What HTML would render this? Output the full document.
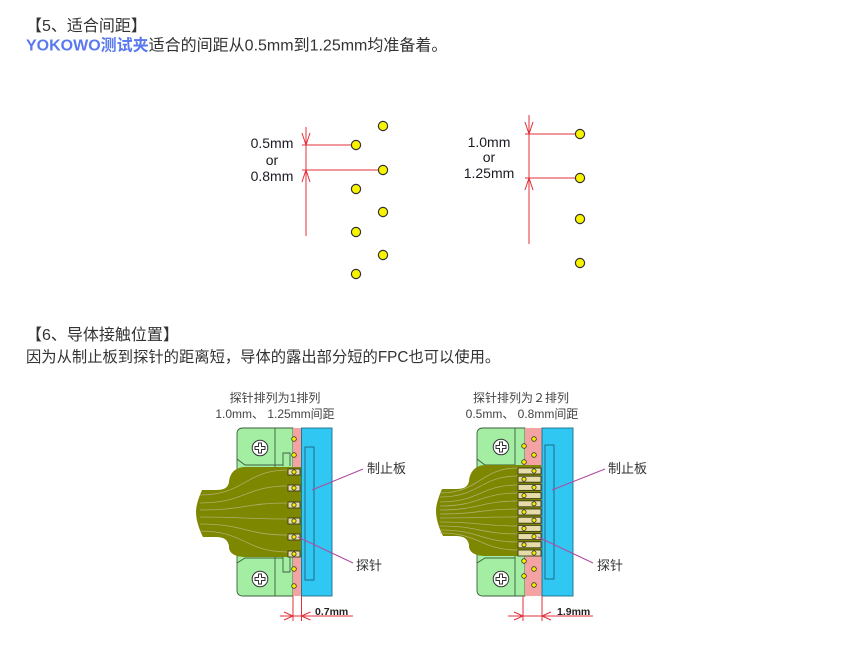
<!DOCTYPE html>
<html><head><meta charset="utf-8"><style>
html,body{margin:0;padding:0;background:#fff;width:845px;height:659px;overflow:hidden}
svg{position:absolute;left:0;top:0}
.t{font-family:"Liberation Sans","Noto Sans CJK SC",sans-serif}
</style></head><body>
<svg width="845" height="659" viewBox="0 0 845 659" xmlns="http://www.w3.org/2000/svg">
<g class="t" fill="#333" font-size="16">
<text x="26" y="31">【5、适合间距】</text>
<text x="26" y="50.5"><tspan fill="#5a78f0" font-weight="bold">YOKOWO测试夹</tspan>适合的间距从0.5mm到1.25mm均准备着。</text>
<text x="26" y="340">【6、导体接触位置】</text>
<text x="26" y="362" font-size="15.3">因为从制止板到探针的距离短，导体的露出部分短的FPC也可以使用。</text>
</g>

<!-- top left pitch diagram -->
<g stroke="#e0303a" stroke-width="1" fill="none">
<line x1="306" y1="127" x2="306" y2="236"/>
<line x1="302" y1="145" x2="356" y2="145"/>
<line x1="302" y1="170" x2="383" y2="170"/>
<polyline points="302,133 306,145 310,133"/>
<polyline points="302,182 306,170 310,182"/>
<line x1="529" y1="115" x2="529" y2="244"/>
<line x1="525" y1="134" x2="580" y2="134"/>
<line x1="525" y1="178" x2="580" y2="178"/>
<polyline points="525,122 529,134 533,122"/>
<polyline points="525,190 529,178 533,190"/>
</g>
<g fill="#f8f400" stroke="#333" stroke-width="1.2">
<circle cx="356" cy="145" r="4.6"/><circle cx="356" cy="189" r="4.6"/><circle cx="356" cy="232" r="4.6"/><circle cx="356" cy="274" r="4.6"/>
<circle cx="383" cy="126" r="4.6"/><circle cx="383" cy="170" r="4.6"/><circle cx="383" cy="212" r="4.6"/><circle cx="383" cy="255" r="4.6"/>
<circle cx="580" cy="134" r="4.6"/><circle cx="580" cy="178" r="4.6"/><circle cx="580" cy="219" r="4.6"/><circle cx="580" cy="263" r="4.6"/>
</g>
<g class="t" font-size="14" fill="#1a1a22" text-anchor="middle">
<text x="272" y="148">0.5mm</text><text x="272" y="165">or</text><text x="272" y="181">0.8mm</text>
<text x="489" y="147">1.0mm</text><text x="489" y="162">or</text><text x="489" y="178">1.25mm</text>
</g>

<!-- titles -->
<g class="t" font-size="12" fill="#444" text-anchor="middle">
<text x="275" y="402">探针排列为1排列</text>
<text x="275" y="418">1.0mm、 1.25mm间距</text>
<text x="521" y="402">探针排列为２排列</text>
<text x="522" y="418">0.5mm、 0.8mm间距</text>
</g>

<!-- LEFT connector -->
<g>
<path d="M293,428 H243 Q237,428 237,434 V590 Q237,596 243,596 H293 Z" fill="#a4eea4" stroke="#3e5e3e" stroke-width="0.9"/>
<line x1="275" y1="428" x2="275" y2="596" stroke="#3e5e3e" stroke-width="0.9"/>
<rect x="293" y="428" width="8.5" height="168" fill="#f4a2a2"/>
<rect x="301.5" y="428" width="30.5" height="168" fill="#30c8f2" stroke="#1d6f8c" stroke-width="0.9"/>
<rect x="305" y="447" width="9" height="133" fill="none" stroke="#1d5f80" stroke-width="0.9"/>
<polyline points="237,459 245,465 283,465" fill="none" stroke="#3e5e3e" stroke-width="0.9"/>
<polyline points="237,563 245,558 283,558" fill="none" stroke="#3e5e3e" stroke-width="0.9"/>
<path d="M283,466 V453 H290 V466" fill="#a4eea4" stroke="#3e5e3e" stroke-width="0.9"/>
<path d="M283,557 V572 H290 V557" fill="#a4eea4" stroke="#3e5e3e" stroke-width="0.9"/>
<g fill="#fff" stroke="#333" stroke-width="1">
<circle cx="260" cy="448" r="7.8"/><circle cx="260" cy="579" r="7.8"/>
<path d="M258.5,443 h3 v3.5 h3.5 v3 h-3.5 v3.5 h-3 v-3.5 h-3.5 v-3 h3.5 z" />
<path d="M258.5,574 h3 v3.5 h3.5 v3 h-3.5 v3.5 h-3 v-3.5 h-3.5 v-3 h3.5 z" />
</g>
<path d="M301,467 H246 C236,467 230,472 229,482 C228,488 224,490 216,490 H202 C199,497 196,505 196,512 C196,520 199,529 203,537 H216 C224,537 228,540 229,546 L229,548 C230,554 236,557 246,557 H301 Z" fill="#7e8700"/>
<g fill="none" stroke="#b4b478" stroke-width="0.8" opacity="0.9">
<path d="M200,495 C245,495 245,470 288,470"/>
<path d="M200,503 C245,503 245,486 288,486"/>
<path d="M200,510 C245,510 245,503 288,503"/>
<path d="M200,517 C245,517 245,519 288,519"/>
<path d="M200,524 C245,524 245,535 288,535"/>
<path d="M200,531 C245,531 245,552 288,552"/>
</g>
<g fill="#e6dcaa" stroke="#3a3a18" stroke-width="0.9">
<rect x="288" y="469" width="12" height="6"/><rect x="288" y="485" width="12" height="6"/><rect x="288" y="502" width="12" height="6"/>
<rect x="288" y="518" width="12" height="6"/><rect x="288" y="534" width="12" height="6"/><rect x="288" y="551" width="12" height="6"/>
</g>
<g fill="#f8ee00" stroke="#333" stroke-width="0.8">
<circle cx="294" cy="439" r="2.3"/><circle cx="294" cy="455" r="2.3"/>
<circle cx="294" cy="472" r="2.1"/><circle cx="294" cy="488" r="2.1"/><circle cx="294" cy="505" r="2.1"/>
<circle cx="294" cy="521" r="2.1"/><circle cx="294" cy="537" r="2.1"/><circle cx="294" cy="554" r="2.1"/>
<circle cx="294" cy="569" r="2.3"/><circle cx="294" cy="586" r="2.3"/>
</g>
<g stroke="#b04aa0" stroke-width="1">
<line x1="312" y1="490" x2="363" y2="469"/>
<line x1="298" y1="537" x2="353" y2="563"/>
</g>
<g class="t" font-size="13" fill="#333">
<text x="367" y="473">制止板</text>
<text x="356" y="570">探针</text>
</g>
<g stroke="#e0303a" stroke-width="1" fill="none">
<line x1="293" y1="596" x2="293" y2="621"/>
<line x1="301.5" y1="596" x2="301.5" y2="621"/>
<line x1="280" y1="616" x2="353" y2="616"/>
<polyline points="284,612 293,616 284,620"/>
<polyline points="310.5,612 301.5,616 310.5,620"/>
</g>
<text class="t" x="315" y="615" font-size="10.5" font-weight="bold" fill="#222">0.7mm</text>
</g>

<!-- RIGHT connector -->
<g>
<path d="M525,428 H483 Q477,428 477,434 V590 Q477,596 483,596 H525 Z" fill="#a4eea4" stroke="#3e5e3e" stroke-width="0.9"/>
<line x1="515" y1="428" x2="515" y2="596" stroke="#3e5e3e" stroke-width="0.9"/>
<rect x="525" y="428" width="17" height="168" fill="#f4a2a2"/>
<rect x="542" y="428" width="31" height="168" fill="#30c8f2" stroke="#1d6f8c" stroke-width="0.9"/>
<rect x="545" y="445" width="9" height="134" fill="none" stroke="#1d5f80" stroke-width="0.9"/>
<polyline points="477,459 485,465 515,465" fill="none" stroke="#3e5e3e" stroke-width="0.9"/>
<polyline points="477,563 485,558 515,558" fill="none" stroke="#3e5e3e" stroke-width="0.9"/>
<g fill="#fff" stroke="#333" stroke-width="1">
<circle cx="501" cy="447" r="7.8"/><circle cx="501" cy="579" r="7.8"/>
<path d="M499.5,442 h3 v3.5 h3.5 v3 h-3.5 v3.5 h-3 v-3.5 h-3.5 v-3 h3.5 z" />
<path d="M499.5,574 h3 v3.5 h3.5 v3 h-3.5 v3.5 h-3 v-3.5 h-3.5 v-3 h3.5 z" />
</g>
<g transform="translate(240,-1)">
<path d="M301,466 H246 C236,466 230,472 229,482 C228,488 224,490 216,490 H202 C199,497 196,505 196,512 C196,520 199,529 203,537 H216 C224,537 228,540 229,546 L229,548 C230,554 236,557 246,557 H301 Z" fill="#7e8700"/>
<g fill="none" stroke="#b4b478" stroke-width="0.8" opacity="0.9">
<path d="M200,494 C240,494 240,469 278,469"/>
<path d="M200,498 C240,498 240,477 278,477"/>
<path d="M200,503 C240,503 240,486 278,486"/>
<path d="M200,507 C240,507 240,494 278,494"/>
<path d="M200,511 C240,511 240,502 278,502"/>
<path d="M200,515 C240,515 240,510 278,510"/>
<path d="M200,519 C240,519 240,518 278,518"/>
<path d="M200,523 C240,523 240,527 278,527"/>
<path d="M200,527 C240,527 240,535 278,535"/>
<path d="M200,531 C240,531 240,543 278,543"/>
<path d="M200,534 C240,534 240,551 278,551"/>
</g>
</g>
<g fill="#e6dcaa" stroke="#3a3a18" stroke-width="0.9">
<rect x="518" y="468" width="23" height="6"/><rect x="518" y="476.2" width="23" height="6"/><rect x="518" y="484.4" width="23" height="6"/>
<rect x="518" y="492.6" width="23" height="6"/><rect x="518" y="500.8" width="23" height="6"/><rect x="518" y="509" width="23" height="6"/>
<rect x="518" y="517.2" width="23" height="6"/><rect x="518" y="525.4" width="23" height="6"/><rect x="518" y="533.6" width="23" height="6"/>
<rect x="518" y="541.8" width="23" height="6"/><rect x="518" y="550" width="23" height="6"/>
</g>
<g fill="#f8ee00" stroke="#333" stroke-width="0.8">
<circle cx="534" cy="439" r="2.3"/><circle cx="534" cy="455" r="2.3"/>
<circle cx="524" cy="446" r="2.3"/><circle cx="524" cy="462" r="2.3"/>
<circle cx="534" cy="471" r="2.1"/><circle cx="524" cy="479.2" r="2.1"/><circle cx="534" cy="487.4" r="2.1"/>
<circle cx="524" cy="495.6" r="2.1"/><circle cx="534" cy="503.8" r="2.1"/><circle cx="524" cy="512" r="2.1"/>
<circle cx="534" cy="520.2" r="2.1"/><circle cx="524" cy="528.4" r="2.1"/><circle cx="534" cy="536.6" r="2.1"/>
<circle cx="524" cy="544.8" r="2.1"/><circle cx="534" cy="553" r="2.1"/>
<circle cx="524" cy="561" r="2.3"/><circle cx="524" cy="576" r="2.3"/>
<circle cx="534" cy="569" r="2.3"/><circle cx="534" cy="585" r="2.3"/>
</g>
<g stroke="#b04aa0" stroke-width="1">
<line x1="552" y1="490" x2="605" y2="469"/>
<line x1="538" y1="537" x2="593" y2="563"/>
</g>
<g class="t" font-size="13" fill="#333">
<text x="608" y="473">制止板</text>
<text x="597" y="570">探针</text>
</g>
<g stroke="#e0303a" stroke-width="1" fill="none">
<line x1="523" y1="596" x2="523" y2="621"/>
<line x1="542" y1="596" x2="542" y2="621"/>
<line x1="508" y1="616" x2="593" y2="616"/>
<polyline points="514,612 523,616 514,620"/>
<polyline points="551,612 542,616 551,620"/>
</g>
<text class="t" x="557" y="615" font-size="10.5" font-weight="bold" fill="#222">1.9mm</text>
</g>
</svg>
</body></html>
